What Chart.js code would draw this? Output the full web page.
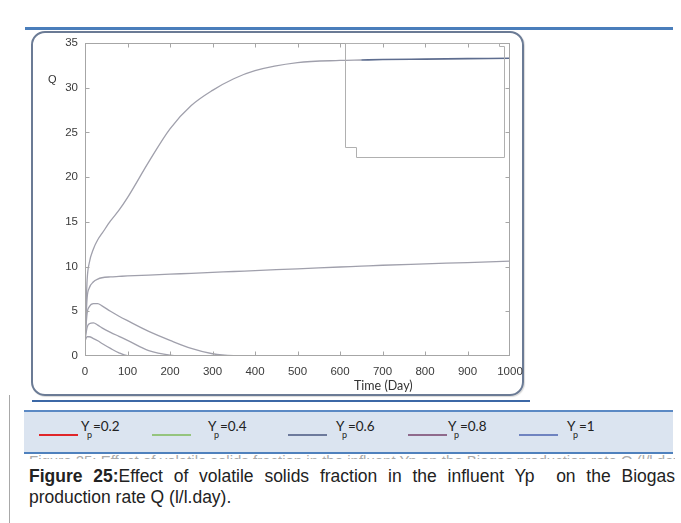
<!DOCTYPE html>
<html>
<head>
<meta charset="utf-8">
<script src="https://cdn.jsdelivr.net/npm/chart.js@4.4.1/dist/chart.umd.min.js"></script>
<style>
    body { margin: 0; background: #fff; width: 681px; height: 523px; overflow: hidden; position: relative; font-family: "Liberation Sans", Arial, sans-serif; }
    .abs { position: absolute; }
    #top-rule { left: 25px; top: 27px; width: 648px; height: 3px; background: #4a7ebb; }
    #frame { left: 31px; top: 31px; width: 489px; height: 361px; border: 2px solid #6b7b95; border-radius: 14px; box-shadow: 1px 1px 1px rgba(0,0,0,0.15); }
    #chart { left: 0; top: 0; }
    #q-label { left: 48px; top: 73px; font-size: 11px; color: #333; }
    #x-title { left: 354px; top: 378px; font-family: Lato, "Open Sans", sans-serif; font-size: 12.5px; color: #333; }
    #mid-rule { left: 32px; top: 400px; width: 498px; height: 2px; background: #3c68a6; }
    #page-line { left: 9px; top: 395px; width: 1px; height: 128px; background: #a8a8a8; }
    #legend-band { left: 24px; top: 410px; width: 649px; height: 40px; background: #dbe4f0; border-top: 2px solid #5b89c4; border-bottom: 2px solid #4f81bd; }
    .leg-line { position: absolute; width: 39px; }
    .leg-text { position: absolute; top: 418px; font-family: Lato, "Open Sans", sans-serif; font-size: 13.5px; color: #222; white-space: nowrap; }
    .leg-text .sp { position: absolute; left: 6px; top: 11px; font-size: 9px; }
    #ghost { left: 29px; top: 455px; width: 646px; height: 4px; overflow: hidden; }
    #ghost div { font-size: 15px; line-height: 16px; color: #aaa; margin-top: -2px; text-align: justify; text-align-last: justify; white-space: nowrap; }
    #caption { left: 29px; top: 466px; width: 646px; font-size: 17.5px; line-height: 21px; color: #222; text-align: justify; }
</style>
</head>
<body>
<div class="abs" id="top-rule"></div>
<div class="abs" id="frame"></div>
<canvas class="abs" id="chart" width="681" height="400"></canvas>
<div class="abs" id="q-label">Q</div>
<div class="abs" id="x-title">Time (Day)</div>
<div class="abs" id="mid-rule"></div>
<div class="abs" id="page-line"></div>
<div class="abs" id="legend-band"></div>
<div id="legend"></div>
<div class="abs" id="ghost"><div>Figure 25: Effect of volatile solids fraction in the influent Yp on the Biogas production rate Q (l/l.day)</div></div>
<div class="abs" id="caption"><b>Figure 25:</b>Effect of volatile solids fraction in the influent Yp&nbsp; on the Biogas production rate Q (l/l.day).</div>

<script>
// time axis (days) and biogas rate Q for each Yp
const timeDays = [0, 5, 10, 20, 30, 40, 60, 80, 100, 150, 200, 250, 300, 350, 400, 500, 600, 650, 700, 800, 900, 1000];
const qYp1   = [1.7, 8.5, 10.4, 12.0, 13.0, 13.7, 15.1, 16.3, 17.7, 21.7, 25.4, 28.0, 29.7, 31.0, 31.9, 32.8, 33.05, 33.1, 33.15, 33.2, 33.25, 33.3];
const qYp08  = [1.7, 6.5, 7.6, 8.3, 8.6, 8.75, 8.85, 8.9, 8.95, 9.05, 9.15, 9.25, 9.35, 9.45, 9.55, 9.75, 9.95, 10.05, 10.15, 10.3, 10.45, 10.6];
const qYp06  = [1.7, 4.8, 5.5, 5.85, 5.85, 5.6, 5.0, 4.45, 3.95, 2.75, 1.75, 0.85, 0.25, 0.03, 0, 0, 0, 0, 0, 0, 0, 0];
const qYp04  = [1.7, 3.2, 3.6, 3.7, 3.45, 3.15, 2.65, 2.2, 1.75, 0.6, 0.1, 0, 0, 0, 0, 0, 0, 0, 0, 0, 0, 0];
const qYp02  = [1.7, 2.15, 2.15, 1.95, 1.7, 1.4, 0.85, 0.35, 0.05, 0, 0, 0, 0, 0, 0, 0, 0, 0, 0, 0, 0, 0];

const xTicks = [0, 100, 200, 300, 400, 500, 600, 700, 800, 900, 1000];
const yTicks = [0, 5, 10, 15, 20, 25, 30, 35];

const ypLabels = ['0.2', '0.4', '0.6', '0.8', '1'];

// styles for the legend strip under the figure
const legendColors = ['#e0262a', '#95c47e', '#6d7a9c', '#8f6a8c', '#6f83c0'];
const legendWidths = [1.5, 1.5, 2.5, 2.5, 1.2];
const legendLineX = [39, 152, 288, 408, 519];
const legendTextX = [81, 208, 336, 448, 567];

const curveColor = '#a0a0ac';
const tickFont = { family: '"Liberation Sans Narrow", "Arial Narrow", "Liberation Sans", Arial, sans-serif', size: 11.5 };

function toPoints(values) {
    return timeDays.map((t, i) => ({ x: t, y: values[i] }));
}

// legend strip
const legendBox = document.getElementById('legend');
ypLabels.forEach((label, i) => {
    const line = document.createElement('div');
    line.className = 'leg-line';
    line.style.left = legendLineX[i] + 'px';
    line.style.top = (435 - legendWidths[i] / 2) + 'px';
    line.style.height = legendWidths[i] + 'px';
    line.style.background = legendColors[i];
    legendBox.appendChild(line);
    const text = document.createElement('div');
    text.className = 'leg-text';
    text.style.left = legendTextX[i] + 'px';
    text.innerHTML = 'Y<span class="sp">p</span> =' + label;
    legendBox.appendChild(text);
});

// empty legend box of the original plot, in data units
const insetOutline = [[612, 35], [612, 23.35], [638, 23.35], [638, 22.2], [986, 22.2], [986, 34.65], [974, 34.65], [974, 35]];

const frameAndInset = {
    id: 'frameAndInset',
    afterDatasetsDraw(chart) {
        const { ctx, chartArea: a, scales: { x, y } } = chart;
        const L = Math.round(a.left) + 0.5, R = Math.round(a.right) - 0.5;
        const T = Math.round(a.top) + 0.5, B = Math.round(a.bottom) - 0.5;
        ctx.save();
        ctx.strokeStyle = '#a6a6a6';
        ctx.lineWidth = 1;
        ctx.strokeRect(L, T, R - L, B - T);
        ctx.beginPath();
        xTicks.slice(1, -1).forEach((v) => {
            const px = Math.round(x.getPixelForValue(v)) + 0.5;
            ctx.moveTo(px, B); ctx.lineTo(px, B - 4);
            ctx.moveTo(px, T); ctx.lineTo(px, T + 4);
        });
        yTicks.slice(1, -1).forEach((v) => {
            const py = Math.round(y.getPixelForValue(v)) + 0.5;
            ctx.moveTo(L, py); ctx.lineTo(L + 4, py);
            ctx.moveTo(R, py); ctx.lineTo(R - 4, py);
        });
        ctx.stroke();

        ctx.strokeStyle = '#b0b0b0';
        ctx.beginPath();
        insetOutline.forEach(([dx, dy], i) => {
            const px = Math.round(x.getPixelForValue(dx)) + 0.5;
            const py = Math.round(y.getPixelForValue(dy)) + 0.5;
            if (i === 0) ctx.moveTo(px, py); else ctx.lineTo(px, py);
        });
        ctx.closePath();
        ctx.stroke();
        ctx.restore();
    }
};

const series = [qYp02, qYp04, qYp06, qYp08, qYp1];

new Chart(document.getElementById('chart'), {
    type: 'line',
    data: {
        datasets: series.map((values, i) => ({
            label: 'Yp=' + ypLabels[i],
            data: toPoints(values),
            borderColor: curveColor,
            borderWidth: 1.3,
            pointRadius: 0,
            fill: false,
            cubicInterpolationMode: 'monotone',
            segment: i === series.length - 1 ? {
                borderColor: (c) => (c.p0.parsed.x >= 650 ? '#5e6d8f' : undefined),
                borderWidth: (c) => (c.p0.parsed.x >= 650 ? 1.6 : undefined)
            } : undefined
        }))
    },
    options: {
        responsive: false,
        animation: false,
        devicePixelRatio: 1,
        layout: { padding: { left: 0, right: 171, top: 43, bottom: 0 } },
        plugins: {
            legend: { display: false },
            tooltip: { enabled: false }
        },
        scales: {
            x: {
                type: 'linear',
                min: 0,
                max: 1000,
                afterFit: (s) => { s.height = 44; },
                afterBuildTicks: (s) => { s.ticks = xTicks.map((v) => ({ value: v })); },
                grid: { display: false, drawTicks: false },
                border: { display: false },
                ticks: {
                    padding: 9,
                    color: '#3a3a3a',
                    maxRotation: 0,
                    font: tickFont,
                    callback: (v) => String(v)
                }
            },
            y: {
                min: 0,
                max: 35,
                afterFit: (s) => { s.width = 85; },
                afterBuildTicks: (s) => { s.ticks = yTicks.map((v) => ({ value: v })); },
                grid: { display: false, drawTicks: false },
                border: { display: false },
                ticks: {
                    padding: 7,
                    color: '#3a3a3a',
                    font: tickFont,
                    callback: (v) => String(v)
                }
            }
        }
    },
    plugins: [frameAndInset]
});
</script>
</body>
</html>
